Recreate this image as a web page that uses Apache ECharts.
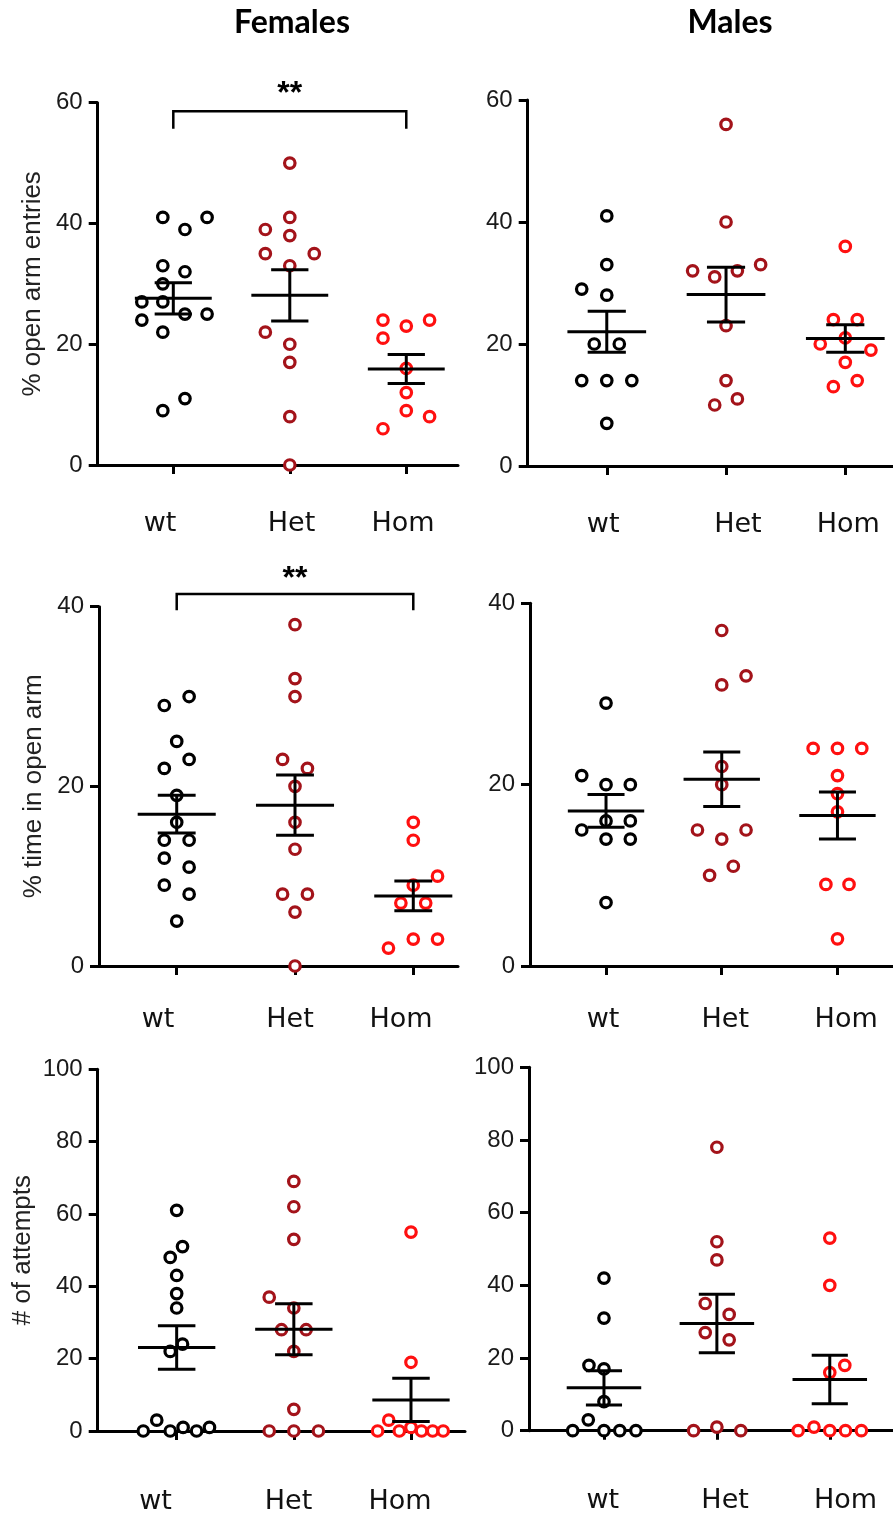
<!DOCTYPE html>
<html><head><meta charset="utf-8">
<script src="https://cdn.jsdelivr.net/npm/echarts@6/dist/echarts.min.js"></script>
<style>html,body{margin:0;padding:0;background:#fff}#c{width:893px;height:1519px}</style>
</head><body><div id="c"></div>
<script>
// ---------- data ----------
const groups = ['wt', 'Het', 'Hom'];
const sexTitles = ['Females', 'Males'];
const yTitles = ['% open arm entries', '% time in open arm', '# of attempts'];

// each point: [horizontal jitter (category units), value]
const entriesF_wt  = [[-0.09,41],[0.29,41],[0.10,39],[-0.09,33],[0.10,32],[-0.09,30],[-0.27,27],[-0.09,27],[-0.27,24],[0.10,25],[0.29,25],[-0.09,22],[0.10,11],[-0.09,9]];
const entriesF_het = [[0,50],[0,41],[-0.21,39],[0,38],[-0.21,35],[0.21,35],[0,33],[-0.21,22],[0,20],[0,17],[0,8],[0,0]];
const entriesF_hom = [[-0.2,24],[0,23],[0.2,24],[-0.2,21],[0,16],[0,12],[0,9],[0.2,8],[-0.2,6]];
const entriesF_mean = [27.6, 28.1, 15.9];
const entriesF_sem  = [2.6, 4.25, 2.4];

const entriesM_wt  = [[0,41],[0,33],[-0.21,29],[0,28],[-0.105,20],[0.105,20],[-0.21,14],[0,14],[0.21,14],[0,7]];
const entriesM_het = [[0,56],[0,40],[-0.28,32],[-0.095,31],[0.095,32],[0.29,33],[0,23],[0,14],[-0.095,10],[0.095,11]];
const entriesM_hom = [[0,36],[-0.1,24],[0.1,24],[0,21],[-0.21,20],[0.215,19],[0,17],[0.1,14],[-0.1,13]];
const entriesM_mean = [22.0, 28.1, 20.9];
const entriesM_sem  = [3.35, 4.5, 2.25];

const timeF_wt  = [[0.105,30],[-0.105,29],[0,25],[0.105,23],[-0.105,22],[0,19],[0,16],[-0.105,14],[0.105,14],[-0.105,12],[0.105,11],[-0.105,9],[0.105,8],[0,5]];
const timeF_het = [[0,38],[0,32],[0,30],[-0.105,23],[0.105,22],[0,20],[0,16],[0,13],[-0.105,8],[0.105,8],[0,6],[0,0]];
const timeF_hom = [[0,16],[0,14],[0.205,10],[0,9],[-0.105,7],[0.105,7],[0,3],[0.205,3],[-0.21,2]];
const timeF_mean = [16.9, 17.9, 7.8];
const timeF_sem  = [2.1, 3.35, 1.65];

const timeM_wt  = [[0,29],[-0.21,21],[0,20],[0.21,20],[0,16],[0.21,16],[-0.21,15],[0,14],[0.21,14],[0,7]];
const timeM_het = [[0,37],[0.21,32],[0,31],[0,22],[0,20],[-0.21,15],[0.21,15],[0,14],[0.1,11],[-0.105,10]];
const timeM_hom = [[-0.21,24],[0,24],[0.21,24],[0,21],[0,19],[0,17],[-0.1,9],[0.1,9],[0,3]];
const timeM_mean = [17.1, 20.6, 16.6];
const timeM_sem  = [1.8, 3.0, 2.6];

const attemptsF_wt  = [[0,61],[0.05,51],[-0.055,48],[0,43],[0,38],[0,34],[0.05,24],[-0.055,22],[-0.17,3],[-0.285,0],[-0.055,0],[0.055,1],[0.17,0],[0.28,1]];
const attemptsF_het = [[0,69],[0,62],[0,53],[-0.21,37],[0,34],[-0.105,28],[0.105,28],[0,22],[0,6],[-0.21,0],[0,0],[0.21,0]];
const attemptsF_hom = [[0,55],[0,19],[-0.19,3],[-0.285,0],[-0.1,0],[0,1],[0.09,0],[0.185,0],[0.275,0]];
const attemptsF_mean = [23.1, 28.1, 8.6];
const attemptsF_sem  = [6.0, 7.05, 6.0];

const attemptsM_wt  = [[0,42],[0,31],[-0.133,18],[0,17],[0,8],[-0.139,3],[-0.277,0],[0,0],[0.14,0],[0.283,0]];
const attemptsM_het = [[0,78],[0,52],[0,47],[-0.103,35],[0.109,32],[-0.103,27],[0.109,25],[-0.206,0],[0,1],[0.212,0]];
const attemptsM_hom = [[0,53],[0,40],[0.133,18],[0,16],[-0.28,0],[-0.14,1],[0,0],[0.139,0],[0.28,0]];
const attemptsM_mean = [11.8, 29.5, 14.1];
const attemptsM_sem  = [4.7, 8.05, 6.65];

// significance brackets: [from group, to group, bracket top, leg bottom, label y]
const sigEntriesF = [0, 2, 58.6, 55.7, 61.4];
const sigTimeF    = [0, 2, 41.4, 39.6, 43.1];
const sigLabel = '**';

// ---------- layout ----------
const colors = ['#000000', '#a3131a', '#ff1010'];
const panels = [
  {pts:[entriesF_wt, entriesF_het, entriesF_hom], mean:entriesF_mean, sem:entriesF_sem, sig:sigEntriesF,
   grid:{left:97.7, top:102.7, width:360.3, height:362.3}, xr:[-0.649, 2.444], yr:[0, 60], yName:yTitles[0], nameGap:52,
   labelPos:[-0.114, 1.015, 1.972], labelMargin:45},
  {pts:[entriesM_wt, entriesM_het, entriesM_hom], mean:entriesM_mean, sem:entriesM_sem, sig:null,
   grid:{left:527.7, top:100, width:365.3, height:366}, xr:[-0.663, 2.40], yr:[0, 60], yName:'', nameGap:0,
   labelPos:[-0.03, 1.10, 2.025], labelMargin:45},
  {pts:[timeF_wt, timeF_het, timeF_hom], mean:timeF_mean, sem:timeF_sem, sig:sigTimeF,
   grid:{left:99, top:606.7, width:359, height:359.3}, xr:[-0.657, 2.378], yr:[0, 40], yName:yTitles[1], nameGap:52,
   labelPos:[-0.158, 0.958, 1.896], labelMargin:40},
  {pts:[timeM_wt, timeM_het, timeM_hom], mean:timeM_mean, sem:timeM_sem, sig:null,
   grid:{left:530, top:603.3, width:363, height:362.7}, xr:[-0.657, 2.48], yr:[0, 40], yName:'', nameGap:0,
   labelPos:[-0.026, 1.03, 2.075], labelMargin:40},
  {pts:[attemptsF_wt, attemptsF_het, attemptsF_hom], mean:attemptsF_mean, sem:attemptsF_sem, sig:null,
   grid:{left:97.7, top:1069.3, width:367.3, height:361.7}, xr:[-0.674, 2.461], yr:[0, 100], yName:yTitles[2], nameGap:62,
   labelPos:[-0.18, 0.955, 1.906], labelMargin:57},
  {pts:[attemptsM_wt, attemptsM_het, attemptsM_hom], mean:attemptsM_mean, sem:attemptsM_sem, sig:null,
   grid:{left:529, top:1067.3, width:364, height:363.4}, xr:[-0.664, 2.56], yr:[0, 100], yName:'', nameGap:0,
   labelPos:[-0.01, 1.073, 2.14], labelMargin:57}
];

const grids = [], xAxes = [], yAxes = [], series = [];
panels.forEach((p, i) => {
  grids.push(Object.assign({outerBoundsMode:'none', containLabel:false}, p.grid));
  xAxes.push({
    type:'value', gridIndex:i, min:p.xr[0], max:p.xr[1],
    axisLine:{onZero:false, lineStyle:{color:'#000', width:3}},
    axisTick:{show:true, customValues:[0,1,2], length:9, lineStyle:{color:'#000', width:3}},
    axisLabel:{customValues:p.labelPos, formatter:v => groups[Math.round(v)] || '', margin:p.labelMargin,
      fontFamily:'DejaVu Sans', fontSize:27, color:'#111'},
    splitLine:{show:false}
  });
  yAxes.push({
    type:'value', gridIndex:i, min:p.yr[0], max:p.yr[1], interval:20,
    name:p.yName, nameLocation:'middle', nameGap:p.nameGap,
    nameTextStyle:{fontFamily:'Liberation Sans', fontSize:26, color:'#222'},
    axisLine:{onZero:false, lineStyle:{color:'#000', width:3}},
    axisTick:{show:true, length:9, lineStyle:{color:'#000', width:3}},
    axisLabel:{margin:15, fontFamily:'Liberation Sans', fontSize:24, color:'#1a1a1a'},
    splitLine:{show:false}
  });
  p.pts.forEach((arr, g) => {
    series.push({
      type:'scatter', xAxisIndex:i, yAxisIndex:i,
      data:arr.map(d => [g + d[0], d[1]]),
      symbol:'circle', symbolSize:10.5,
      itemStyle:{color:'#ffffff', borderColor:colors[g], borderWidth:3.2, opacity:1},
      emphasis:{disabled:true}, z:2, silent:true
    });
  });
  series.push({
    type:'custom', xAxisIndex:i, yAxisIndex:i, z:5, silent:true, clip:false,
    data:p.mean.map((m, g) => [g, m, p.sem[g]]),
    renderItem:(params, api) => {
      const x = api.value(0), m = api.value(1), s = api.value(2);
      const st = {stroke:'#000', lineWidth:3};
      const L = (a, b) => ({type:'line', shape:{x1:a[0], y1:a[1], x2:b[0], y2:b[1]}, style:st});
      return {type:'group', children:[
        L(api.coord([x-0.33, m]), api.coord([x+0.33, m])),
        L(api.coord([x, m-s]), api.coord([x, m+s])),
        L(api.coord([x-0.16, m+s]), api.coord([x+0.16, m+s])),
        L(api.coord([x-0.16, m-s]), api.coord([x+0.16, m-s]))
      ]};
    }
  });
  if (p.sig) {
    series.push({
      type:'custom', xAxisIndex:i, yAxisIndex:i, z:5, silent:true, clip:false,
      data:[p.sig],
      renderItem:(params, api) => {
        const a = api.value(0), b = api.value(1), top = api.value(2), bot = api.value(3), ly = api.value(4);
        const pts = [api.coord([a, bot]), api.coord([a, top]), api.coord([b, top]), api.coord([b, bot])];
        const lp = api.coord([(a + b) / 2, ly]);
        return {type:'group', children:[
          {type:'polyline', shape:{points:pts}, style:{stroke:'#000', lineWidth:2.5, fill:null}},
          {type:'text', x:lp[0], y:lp[1], style:{text:sigLabel, align:'center', verticalAlign:'middle',
            font:'bold 32px "Liberation Sans"', fill:'#000'}}
        ]};
      }
    });
  }
});

const chart = echarts.init(document.getElementById('c'), null, {renderer:'canvas'});
chart.setOption({
  animation:false,
  backgroundColor:'#ffffff',
  grid:grids, xAxis:xAxes, yAxis:yAxes, series:series,
  graphic:[
    {type:'text', x:292, y:23, style:{text:sexTitles[0], align:'center', verticalAlign:'middle', font:'bold 32px Lato', fill:'#000'}},
    {type:'text', x:730, y:23, style:{text:sexTitles[1], align:'center', verticalAlign:'middle', font:'bold 32px Lato', fill:'#000'}}
  ]
});
</script></body></html>
